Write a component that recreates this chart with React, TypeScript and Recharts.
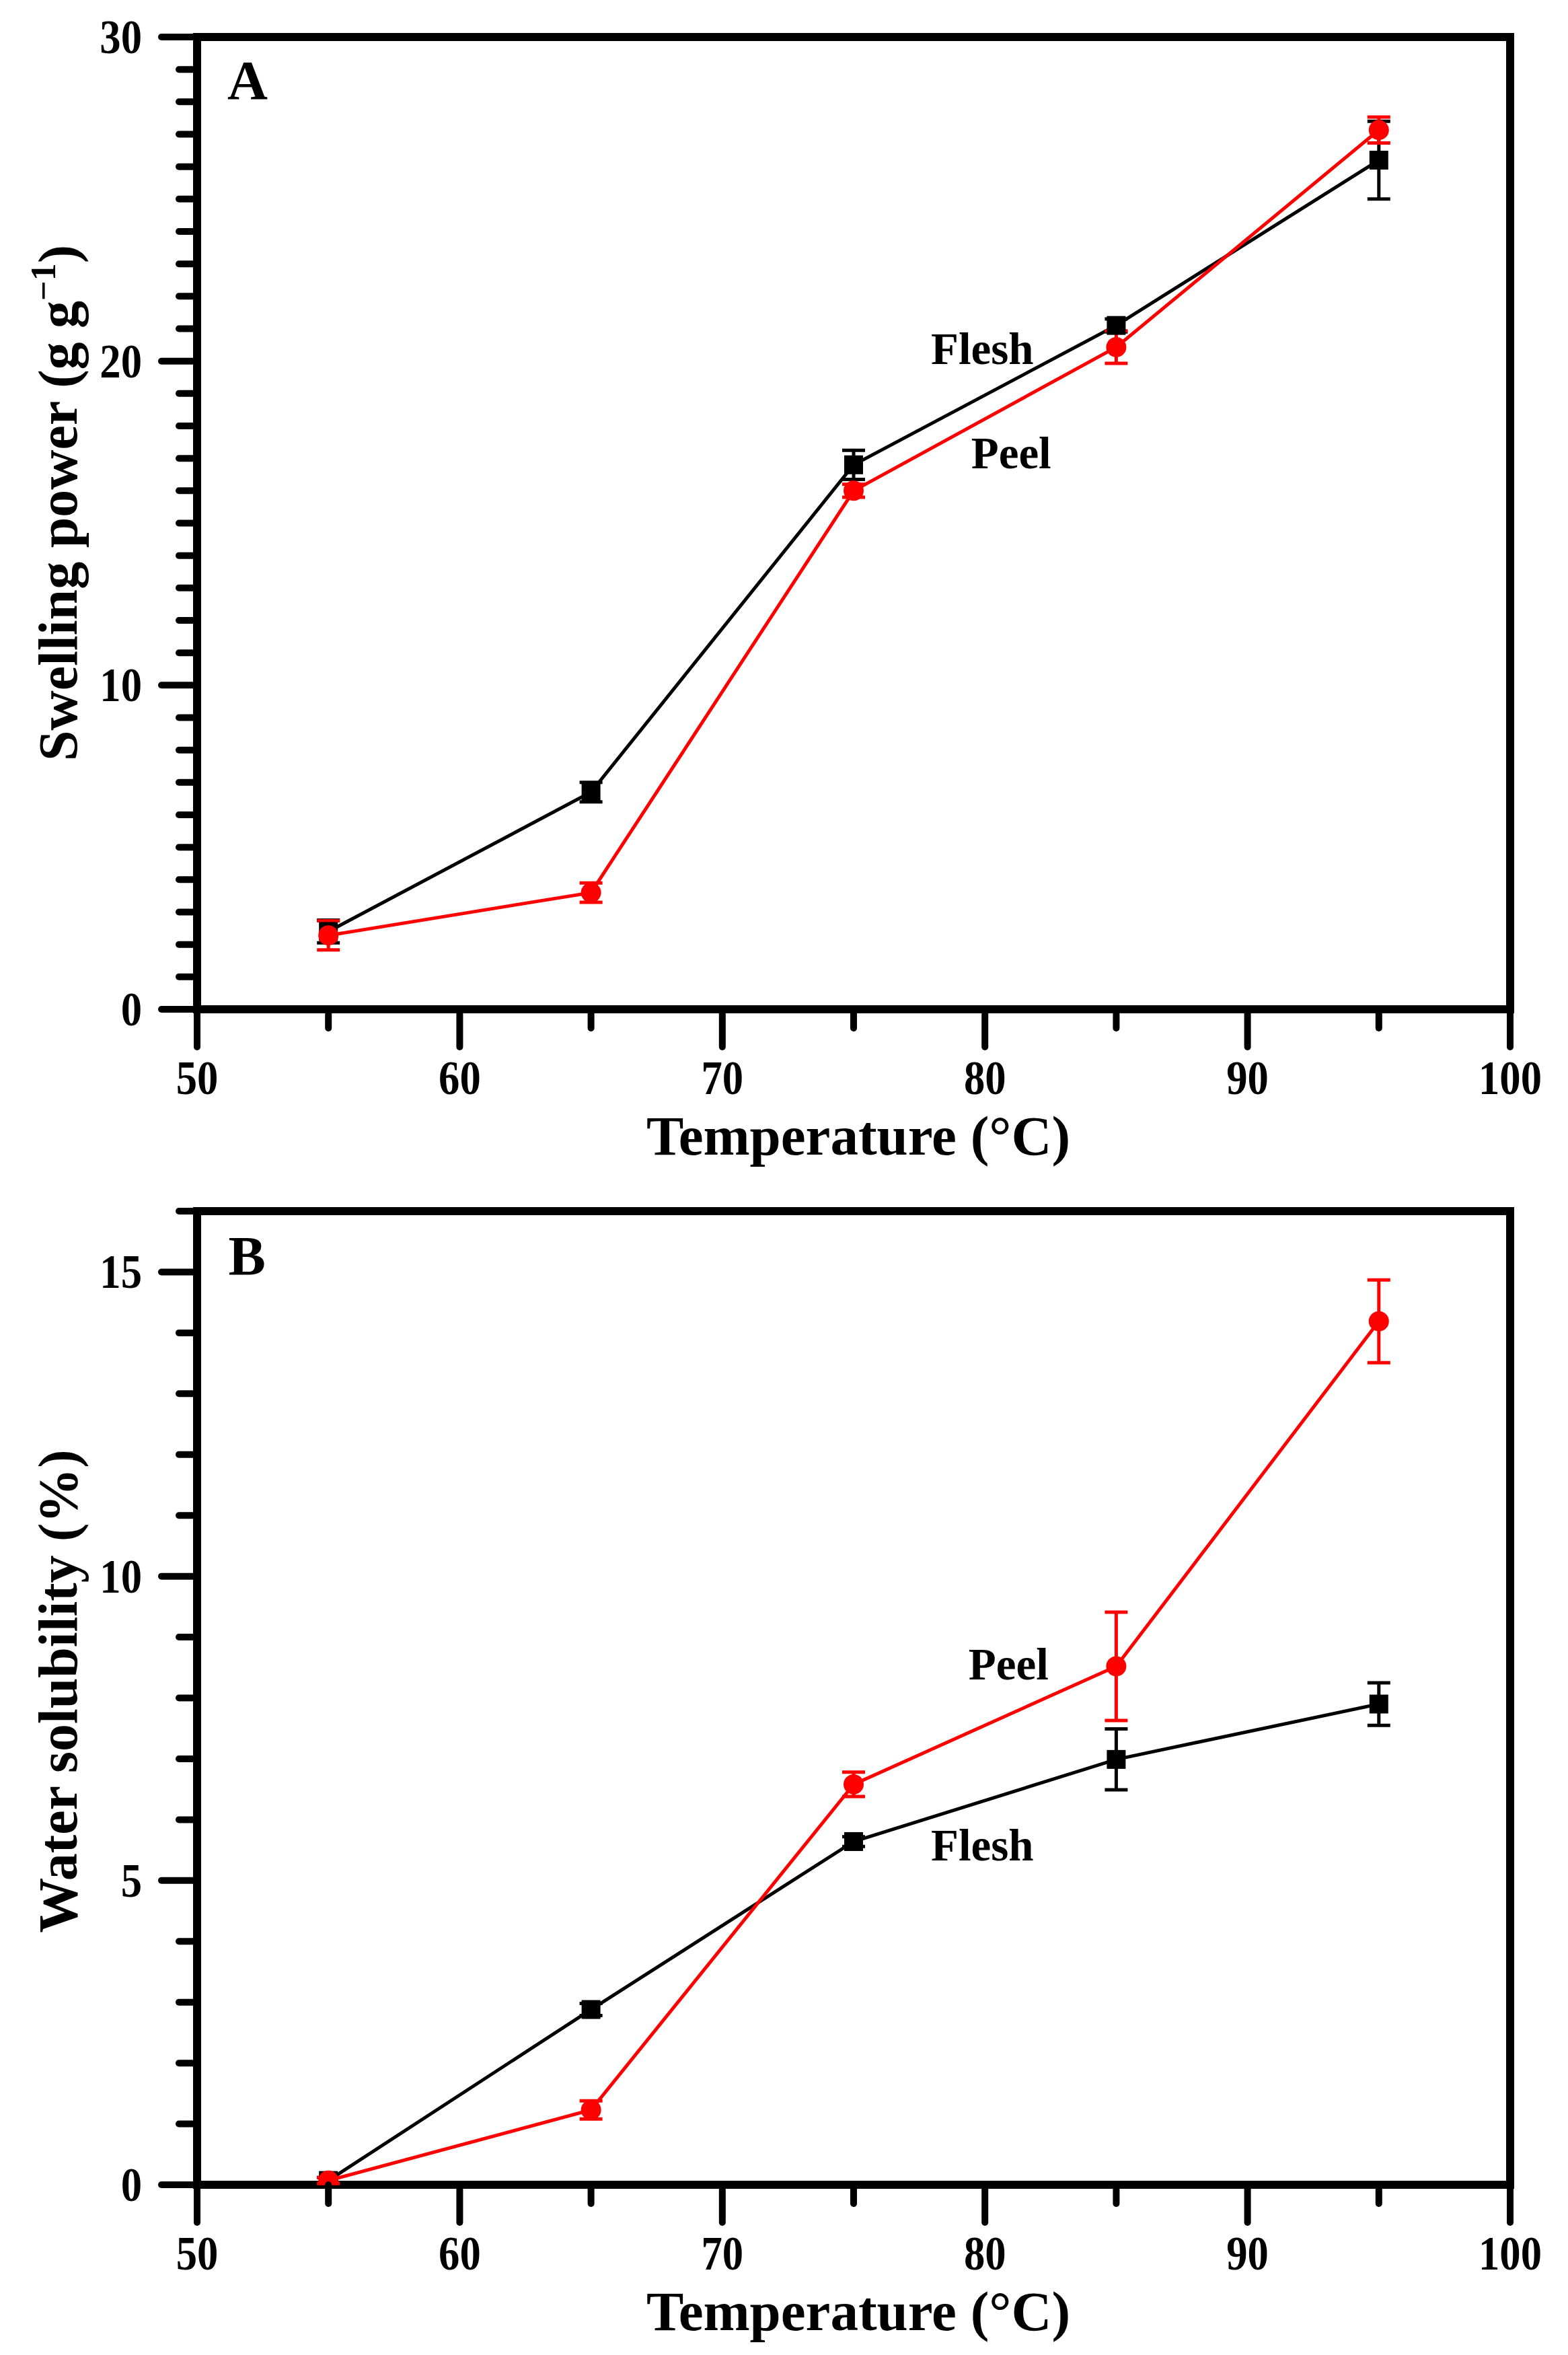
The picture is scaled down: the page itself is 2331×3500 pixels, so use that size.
import React from 'react';
import { LineChart, Line, XAxis, YAxis, ErrorBar, ReferenceArea, ReferenceDot, Label } from 'recharts';

// ---------- data ----------
const temperatures = [55, 65, 75, 85, 95];

const fleshSwelling = [2.4, 6.7, 16.8, 21.1, 26.2];
const fleshSwellingErr = [0.35, 0.3, 0.45, 0.2, 1.2];
const peelSwelling = [2.28, 3.6, 16.0, 20.43, 27.13];
const peelSwellingErr = [0.45, 0.3, 0.2, 0.5, 0.4];

const fleshSolubility = [0.07, 2.88, 5.64, 6.99, 7.9];
const fleshSolubilityErr = [0.05, 0.1, 0.08, 0.5, 0.35];
const peelSolubility = [0.07, 1.23, 6.58, 8.52, 14.19];
const peelSolubilityErr = [0.05, 0.15, 0.2, 0.89, 0.68];

const xTicks = [50, 55, 60, 65, 70, 75, 80, 85, 90, 95, 100];
const xTickLabels = [50, 60, 70, 80, 90, 100];
const yTicksA = [0, 1, 2, 3, 4, 5, 6, 7, 8, 9, 10, 11, 12, 13, 14, 15, 16, 17, 18, 19, 20, 21, 22, 23, 24, 25, 26, 27, 28, 29, 30];
const yTickLabelsA = [0, 10, 20, 30];
const yTicksB = [0, 1, 2, 3, 4, 5, 6, 7, 8, 9, 10, 11, 12, 13, 14, 15, 16];
const yTickLabelsB = [0, 5, 10, 15];

const annotationsA = [
  { text: 'Flesh', x: 79.9, y: 19.9, size: 67 },
  { text: 'Peel', x: 81.0, y: 16.7, size: 67 },
  { text: 'A', x: 51.92, y: 28.1, size: 83 },
];
const annotationsB = [
  { text: 'Peel', x: 80.9, y: 8.3, size: 67 },
  { text: 'Flesh', x: 79.9, y: 5.33, size: 67 },
  { text: 'B', x: 51.9, y: 14.96, size: 83 },
];

const dataA = temperatures.map((t, i) => ({
  t,
  flesh: fleshSwelling[i],
  fleshErr: fleshSwellingErr[i],
  peel: peelSwelling[i],
  peelErr: peelSwellingErr[i],
}));
const dataB = temperatures.map((t, i) => ({
  t,
  flesh: fleshSolubility[i],
  fleshErr: fleshSolubilityErr[i],
  peel: peelSolubility[i],
  peelErr: peelSolubilityErr[i],
}));

// ---------- styles ----------
const FONT = '"Liberation Serif", "Times New Roman", serif';
const RED = '#ff0000';
const TICK_SCALE_X = 0.87;

const makeXTick = (labels: number[]) => (props: any) => {
  const { x, y, payload } = props;
  const major = labels.includes(payload.value);
  const len = major ? 56 : 28;
  return (
    <g>
      <line x1={x} y1={y} x2={x} y2={y + len} stroke="#000" strokeWidth={10} strokeLinecap="round" />
      {major && (
        <text
          transform={`translate(${x}, ${y + 126}) scale(${TICK_SCALE_X}, 1)`}
          textAnchor="middle"
          fontFamily={FONT}
          fontWeight="bold"
          fontSize={72}
          fill="#000"
        >
          {payload.value}
        </text>
      )}
    </g>
  );
};

const makeYTick = (labels: number[]) => (props: any) => {
  const { x, y, payload } = props;
  const major = labels.includes(payload.value);
  const len = major ? 53 : 27;
  return (
    <g>
      <line x1={x} y1={y} x2={x - len} y2={y} stroke="#000" strokeWidth={10} strokeLinecap="round" />
      {major && (
        <text
          transform={`translate(${x - 82}, ${y + 24}) scale(${TICK_SCALE_X}, 1)`}
          textAnchor="end"
          fontFamily={FONT}
          fontWeight="bold"
          fontSize={72}
          fill="#000"
        >
          {payload.value}
        </text>
      )}
    </g>
  );
};

const squareDot = (props: any) => {
  const { cx, cy, index } = props;
  if (cx == null || cy == null) return <g key={`sq-${index}`} />;
  return <rect key={`sq-${index}`} x={cx - 14} y={cy - 14} width={28} height={28} fill="#000" />;
};
const circleDot = (props: any) => {
  const { cx, cy, index } = props;
  if (cx == null || cy == null) return <g key={`ci-${index}`} />;
  return <circle key={`ci-${index}`} cx={cx} cy={cy} r={15} fill={RED} />;
};

const xLabelContent = (props: any) => {
  const vb = props.viewBox || {};
  return (
    <text x={vb.x + vb.width / 2 + 7} y={vb.y + 216} textAnchor="middle" fontFamily={FONT} fontWeight="bold" fontSize={83} fill="#000">
      Temperature (°C)
    </text>
  );
};

const yLabelA = (props: any) => {
  const vb = props.viewBox || {};
  const cx = vb.x + 114;
  const cy = vb.y + vb.height / 2 - 30;
  return (
    <text transform={`translate(${cx}, ${cy}) rotate(-90)`} textAnchor="middle" fontFamily={FONT} fontWeight="bold" fontSize={82} fill="#000">
      Swelling power (g g<tspan dy={-32} fontSize={52}>−1</tspan><tspan dy={32}>)</tspan>
    </text>
  );
};

const yLabelB = (props: any) => {
  const vb = props.viewBox || {};
  const cx = vb.x + 114;
  const cy = vb.y + vb.height / 2 - 10;
  return (
    <text transform={`translate(${cx}, ${cy}) rotate(-90)`} textAnchor="middle" fontFamily={FONT} fontWeight="bold" fontSize={82} fill="#000">
      Water solubility (%)
    </text>
  );
};

const textShape = (text: string, size: number) => (props: any) => {
  const { cx, cy } = props;
  return (
    <text x={cx} y={cy} textAnchor="middle" fontFamily={FONT} fontWeight="bold" fontSize={size} fill="#000">
      {text}
    </text>
  );
};

type PanelProps = {
  data: any[];
  yMax: number;
  yTicks: number[];
  yLabels: number[];
  yLabel: (p: any) => any;
  annotations: { text: string; x: number; y: number; size: number }[];
  top: number;
  bottom: number;
};

function Panel({ data, yMax, yTicks, yLabels, yLabel, annotations, top, bottom }: PanelProps) {
  return (
    <LineChart width={2331} height={1750} data={data} margin={{ top, right: 86, bottom: 0, left: 0 }}>
      <ReferenceArea x1={50} x2={100} y1={0} y2={yMax} fill="none" stroke="#000" strokeWidth={12} ifOverflow="visible" />
      <XAxis
        dataKey="t"
        type="number"
        domain={[50, 100]}
        ticks={xTicks}
        interval={0}
        tickSize={0}
        tickMargin={0}
        tickLine={false}
        axisLine={false}
        tick={makeXTick(xTickLabels)}
        height={bottom}
        allowDataOverflow
      >
        <Label content={xLabelContent} />
      </XAxis>
      <YAxis
        type="number"
        domain={[0, yMax]}
        ticks={yTicks}
        interval={0}
        tickSize={0}
        tickMargin={0}
        tickLine={false}
        axisLine={false}
        tick={makeYTick(yLabels)}
        width={293}
        allowDataOverflow
      >
        <Label content={yLabel} />
      </YAxis>
      <Line
        type="linear"
        dataKey="flesh"
        stroke="#000"
        strokeWidth={5}
        dot={squareDot}
        activeDot={false}
        isAnimationActive={false}
      >
        <ErrorBar dataKey="fleshErr" direction="y" width={17} strokeWidth={5} stroke="#000" isAnimationActive={false} />
      </Line>
      <Line
        type="linear"
        dataKey="peel"
        stroke={RED}
        strokeWidth={5}
        dot={circleDot}
        activeDot={false}
        isAnimationActive={false}
      >
        <ErrorBar dataKey="peelErr" direction="y" width={17} strokeWidth={5} stroke={RED} isAnimationActive={false} />
      </Line>
      {annotations.map((a) => (
        <ReferenceDot
          key={a.text}
          x={a.x}
          y={a.y}
          r={0}
          ifOverflow="visible"
          shape={textShape(a.text, a.size)}
        />
      ))}
    </LineChart>
  );
}

export default function App() {
  return (
    <div style={{ position: 'absolute', left: 0, top: 0, width: 2331, height: 3500, background: '#fff' }}>
      <Panel
        data={dataA}
        yMax={30}
        yTicks={yTicksA}
        yLabels={yTickLabelsA}
        yLabel={yLabelA}
        annotations={annotationsA}
        top={55}
        bottom={250}
      />
      <Panel
        data={dataB}
        yMax={16}
        yTicks={yTicksB}
        yLabels={yTickLabelsB}
        yLabel={yLabelB}
        annotations={annotationsB}
        top={50}
        bottom={253}
      />
    </div>
  );
}
